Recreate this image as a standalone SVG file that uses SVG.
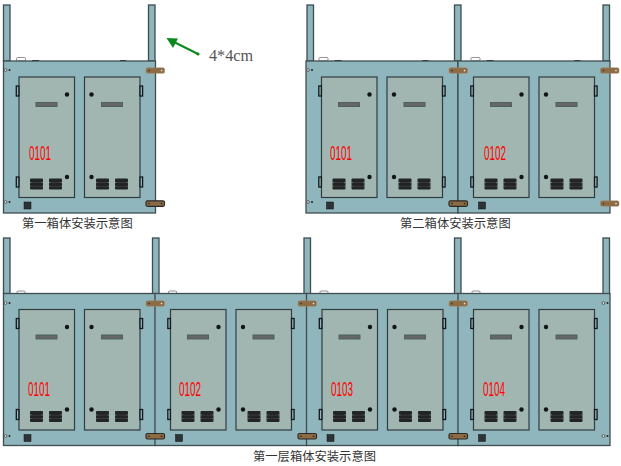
<svg xmlns="http://www.w3.org/2000/svg" xmlns:xlink="http://www.w3.org/1999/xlink" width="621" height="466" viewBox="0 0 621 466">
<style>
.body{fill:#8fb5bd;stroke:#3f4d50;stroke-width:1.3}
.door{fill:#a1b6b1;stroke:#323d40;stroke-width:1.2}
.slot{fill:#666;stroke:#4f6062;stroke-width:1}
.hinge{fill:#8fb5bd;stroke:#14191a;stroke-width:1.3}
.dot{fill:#111516}
.vent{fill:#222425}
.sq{fill:#2d3436;stroke:#111;stroke-width:.5}
.br{fill:#8c6b45;stroke:#a48a6a;stroke-width:.5}
.brd{fill:#8c6b45;stroke:#2c2a26;stroke-width:1.2}
.tab{fill:#fff;stroke:#777;stroke-width:.8}
.dark{fill:#222}
.num{font-family:"Liberation Sans",Arial,sans-serif;font-size:21px;fill:#ff0000}
.cap{font-family:"Noto Sans CJK SC","Liberation Sans",sans-serif;font-size:12.3px;fill:#333}
.note{font-family:"Liberation Serif",serif;font-size:16px;fill:#555}
</style>
<defs>
<g id="vent"><rect class="vent" width="13" height="11" rx="1"/><rect x="0" y="3.6" width="1.5" height=".7" fill="#8d9a9a"/><rect x="11.5" y="3.6" width="1.5" height=".7" fill="#8d9a9a"/><rect x="0" y="7.4" width="1.5" height=".5" fill="#8d9a9a"/><rect x="11.5" y="7.4" width="1.5" height=".5" fill="#8d9a9a"/><rect x="1.5" y="3.9" width="10" height=".4" fill="#555"/><rect x="1.5" y="7.5" width="10" height=".4" fill="#555"/></g>
<g id="hinge"><rect class="hinge" width="2.6" height="10" x="0" y="0"/></g>
<g id="cab">
<rect class="body" x="0" y="0" width="152" height="152"/>
<rect class="door" x="15.5" y="16" width="55.5" height="120.5"/>
<rect class="door" x="81" y="16" width="55.5" height="120.5"/>
<rect class="slot" x="32.5" y="41.5" width="21" height="4"/>
<rect class="slot" x="98" y="41.5" width="21" height="4"/>
<circle class="dot" cx="63.5" cy="33.5" r="2.2"/><circle class="dot" cx="88" cy="33.5" r="2.2"/>
<circle class="dot" cx="63.5" cy="116" r="2.2"/><circle class="dot" cx="88" cy="116" r="2.2"/>
<use xlink:href="#vent" x="26.5" y="117.5"/><use xlink:href="#vent" x="45.5" y="117.5"/>
<use xlink:href="#vent" x="92.5" y="117.5"/><use xlink:href="#vent" x="111.5" y="117.5"/>
<use xlink:href="#hinge" x="12.8" y="25"/><use xlink:href="#hinge" x="12.8" y="116"/>
<use xlink:href="#hinge" x="136.5" y="25"/><use xlink:href="#hinge" x="136.5" y="116"/>
<rect class="sq" x="20.5" y="141" width="7" height="7"/>
</g>
<g id="screws"><circle cx="0" cy="0" r="1.4" fill="#dfe6e6" stroke="#333" stroke-width=".7"/><circle cx="4" cy="0" r="1" fill="#222"/></g>
<g id="post"><rect class="body" x="0" y="0" width="6.5" height="56"/></g>
<g id="topmarks"><rect class="tab" x="13" y="-3.5" width="9" height="3.5" rx="1"/><rect class="dark" x="28.5" y="-1" width="7" height="1.2"/><rect class="dark" x="116.5" y="-1" width="6" height="1.2"/></g>
<g id="tab"><rect class="tab" x="0" y="0" width="8" height="3" rx="1"/></g>
<g id="bk"><rect class="br" width="18.5" height="5.5" rx="1.5"/><circle cx="3" cy="2.8" r=".8" fill="#333"/><circle cx="15.5" cy="2.8" r=".8" fill="#eee"/></g>
<g id="bkd"><rect class="brd" width="18.5" height="5.5" rx="1.5"/><circle cx="3" cy="2.8" r=".8" fill="#222"/><circle cx="15.5" cy="2.8" r=".8" fill="#222"/></g>
</defs>

<g id="connectors">
<line x1="198" y1="54" x2="175" y2="42.5" stroke="#0a8a1e" stroke-width="2"/>
<circle cx="198" cy="54" r="1.6" fill="#0a8a1e"/>
<polygon points="166.5,38 178,38.5 173,48" fill="#0a8a1e"/>
</g>

<g id="node-top-1">
<use xlink:href="#post" x="3.5" y="5"/><use xlink:href="#post" x="148.5" y="5"/>
<use xlink:href="#topmarks" x="3.5" y="61"/>
<use xlink:href="#cab" x="3.5" y="61"/>
<use xlink:href="#screws" x="5.5" y="70"/><use xlink:href="#screws" x="5.5" y="202"/>
<use xlink:href="#bk" x="146" y="67.8"/><use xlink:href="#bkd" x="146" y="200.8"/>
<text class="num" x="29" y="160" textLength="22" lengthAdjust="spacingAndGlyphs">0101</text>
</g>
<text id="cap-1" class="cap" x="22" y="228">第一箱体安装示意图</text>
<text id="note" class="note" x="209" y="61" textLength="44" lengthAdjust="spacingAndGlyphs">4*4cm</text>

<g id="node-top-2">
<use xlink:href="#post" x="307" y="5"/><use xlink:href="#post" x="454.5" y="5"/><use xlink:href="#post" x="603" y="5"/>
<use xlink:href="#topmarks" x="306" y="61"/><use xlink:href="#topmarks" x="458" y="61"/>
<use xlink:href="#cab" x="306" y="61"/><use xlink:href="#cab" x="458" y="61"/>
<use xlink:href="#screws" x="308" y="70"/><use xlink:href="#screws" x="308" y="202"/>
<use xlink:href="#bk" x="449" y="67.8"/><use xlink:href="#bkd" x="449" y="200.8"/>
<use xlink:href="#bk" x="600.5" y="67.8"/><use xlink:href="#bk" x="600.5" y="200.8"/>
<text class="num" x="330" y="160" textLength="22" lengthAdjust="spacingAndGlyphs">0101</text>
<text class="num" x="484" y="160" textLength="22" lengthAdjust="spacingAndGlyphs">0102</text>
</g>
<text id="cap-2" class="cap" x="400" y="228">第二箱体安装示意图</text>

<g id="node-bottom">
<use xlink:href="#post" x="3.5" y="238"/><use xlink:href="#post" x="152.5" y="238"/><use xlink:href="#post" x="304" y="238"/><use xlink:href="#post" x="454.5" y="238"/><use xlink:href="#post" x="603" y="238"/>
<use xlink:href="#tab" x="17" y="291"/><use xlink:href="#tab" x="168.5" y="291"/><use xlink:href="#tab" x="320" y="291"/><use xlink:href="#tab" x="472" y="291"/>
<use xlink:href="#cab" x="3.5" y="293.5"/><use xlink:href="#cab" x="155" y="293.5"/><use xlink:href="#cab" x="306.5" y="293.5"/><use xlink:href="#cab" x="458" y="293.5"/>
<use xlink:href="#screws" x="5.5" y="303"/><use xlink:href="#screws" x="5.5" y="436"/>
<use xlink:href="#screws" x="603.5" y="303"/><use xlink:href="#screws" x="603.5" y="436"/>
<use xlink:href="#bk" x="146" y="300.8"/><use xlink:href="#bkd" x="146" y="433.5"/>
<use xlink:href="#bk" x="298" y="300.8"/><use xlink:href="#bkd" x="298" y="433.5"/>
<use xlink:href="#bk" x="449" y="300.8"/><use xlink:href="#bkd" x="449" y="433.5"/>
<text class="num" x="28" y="396" textLength="22" lengthAdjust="spacingAndGlyphs">0101</text>
<text class="num" x="179" y="396" textLength="22" lengthAdjust="spacingAndGlyphs">0102</text>
<text class="num" x="331" y="396" textLength="22" lengthAdjust="spacingAndGlyphs">0103</text>
<text class="num" x="483" y="396" textLength="22" lengthAdjust="spacingAndGlyphs">0104</text>
</g>
<text id="cap-3" class="cap" x="253" y="461">第一层箱体安装示意图</text>
</svg>
